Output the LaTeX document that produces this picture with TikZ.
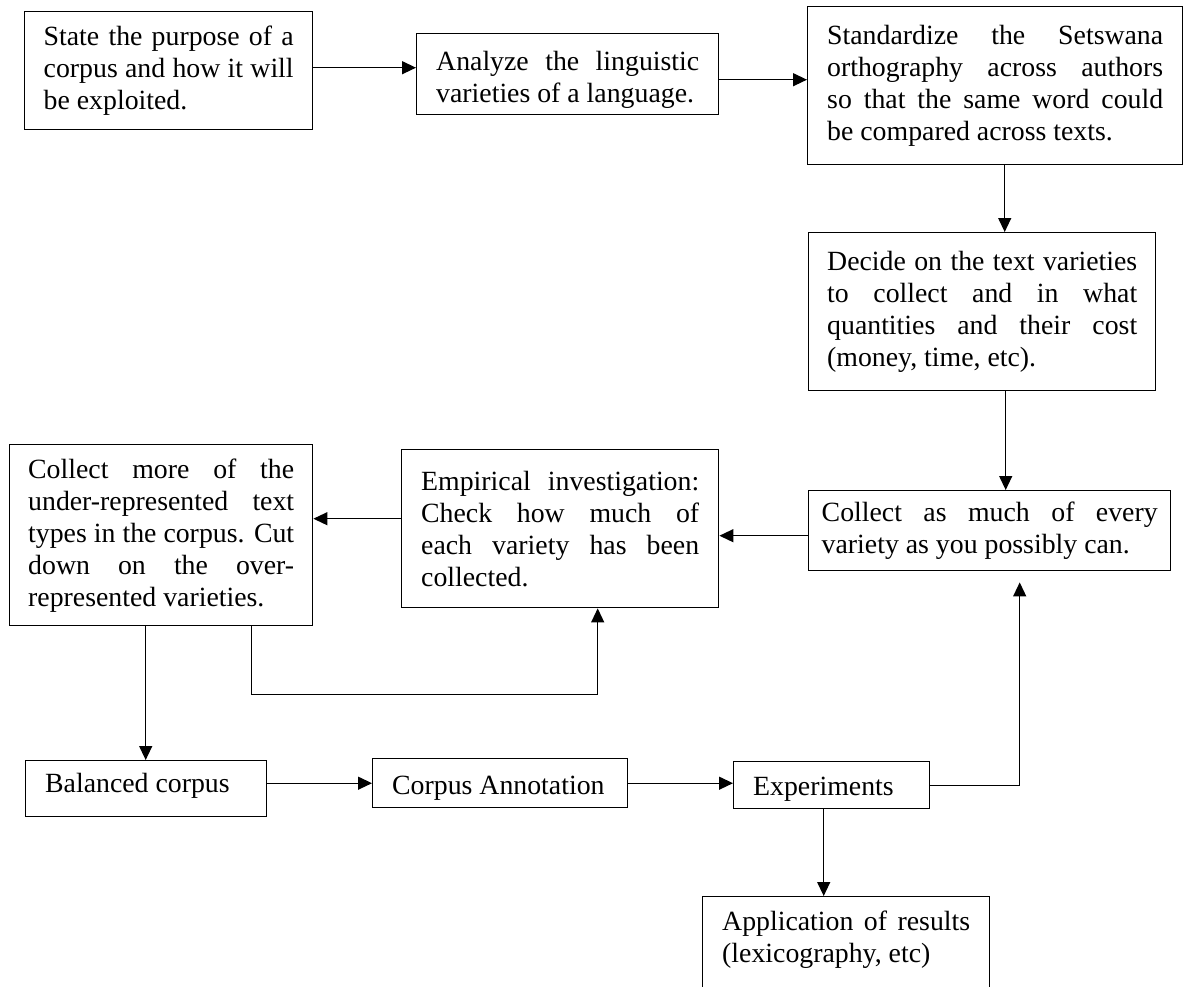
\documentclass[tikz,border=0pt]{standalone}
\usepackage{fontspec}
\setmainfont{Liberation Serif}
\usetikzlibrary{arrows.meta,calc}

\tikzset{
  stage/.style={draw, line width=1.4pt, anchor=north west, align=justify,
    inner xsep=19.5pt, inner ysep=4pt, font=\fontsize{27.8pt}{32pt}\selectfont},
  arr/.style={line width=1.3pt, -{Triangle[length=14pt,width=13pt]}}
}

\begin{document}
\begin{tikzpicture}[x=1pt,y=-1pt]
\useasboundingbox (0,0) rectangle (1183,986);
% Top row
\node[stage, text width=250pt, inner xsep=19pt, minimum height=118pt] (purpose) at (24,11)
  {State the purpose of a\linebreak corpus and how it will\linebreak be exploited.};
\node[stage, text width=263pt, text height=31pt, minimum height=81pt] (analyze) at (416,33)
  {Analyze the linguistic\linebreak varieties of a language.};
\node[stage, text width=336pt, minimum height=158pt] (standard) at (807,6)
  {Standardize the Setswana\linebreak orthography across authors\linebreak so that the same word could\linebreak be compared across texts.};
\node[stage, text width=310pt, inner xsep=18.5pt, minimum height=158pt] (decide) at (808,232)
  {Decide on the text varieties\linebreak to collect and in what\linebreak quantities and their cost\linebreak (money, time, etc).};
% Middle row
\node[stage, text width=336pt, inner xsep=13pt, minimum height=80pt] (collect) at (808,490)
  {Collect as much of every\linebreak variety as you possibly can.};
\node[stage, text width=278pt, minimum height=158pt] (empirical) at (401,449)
  {Empirical investigation:\linebreak Check how much of\linebreak each variety has been\linebreak collected.};
\node[stage, text width=266pt, inner xsep=18.5pt, minimum height=181pt] (collectmore) at (9,444)
  {Collect more of the\linebreak under-represented text\linebreak types in the corpus. Cut\linebreak down on the over-\linebreak represented varieties.};
% Bottom row
\node[stage, text width=201pt, inner xsep=20pt, text height=21pt, text depth=13pt, minimum height=56pt] (balanced) at (24.5,760) {Balanced corpus};
\node[stage, text width=216pt, text height=26pt, text depth=3pt, minimum height=49pt] (annotation) at (372,758) {Corpus Annotation};
\node[stage, text width=157pt, text height=24pt, text depth=3pt, minimum height=47pt] (experiments) at (733,761) {Experiments};
\node[stage, text width=248pt, inner ysep=0pt, text height=34pt, text depth=100pt] (application) at (702,896)
  {Application of results\linebreak (lexicography, etc)};

% Connectors
\coordinate (p1) at ($(purpose.east)+(0,-3)$);
\draw[arr] (p1) -- (p1 -| analyze.west);
\coordinate (p2) at ($(analyze.east)+(0,5.5)$);
\draw[arr] (p2) -- (p2 -| standard.west);
\coordinate (p3) at ($(standard.south)+(9.5,0)$);
\draw[arr] (p3) -- (p3 |- decide.north);
\coordinate (p4) at ($(decide.south)+(23.5,0)$);
\draw[arr] (p4) -- (p4 |- collect.north);
\coordinate (p5) at ($(collect.west)+(0,5)$);
\draw[arr] (p5) -- (p5 -| empirical.east);
\coordinate (p6) at ($(empirical.west)+(0,-10)$);
\draw[arr] (p6) -- (p6 -| collectmore.east);
\draw[arr] (collectmore.south -| balanced.north) -- (balanced.north);
\coordinate (q1) at ($(collectmore.south)+(90.5,0)$);
\coordinate (q2) at ($(empirical.south)+(37.5,0)$);
\draw[arr] (q1) |- ($(q2)+(0,86)$) -- (q2);
\draw[arr] (annotation.west -| balanced.east) -- (annotation.west);
\draw[arr] (annotation.east) -- (annotation.east -| experiments.west);
\draw[arr] (experiments.east) -| ($(collect.south)+(30,11)$);
\coordinate (r1) at ($(experiments.south)+(-8,0)$);
\draw[arr] (r1) -- (r1 |- application.north);
\end{tikzpicture}
\end{document}
